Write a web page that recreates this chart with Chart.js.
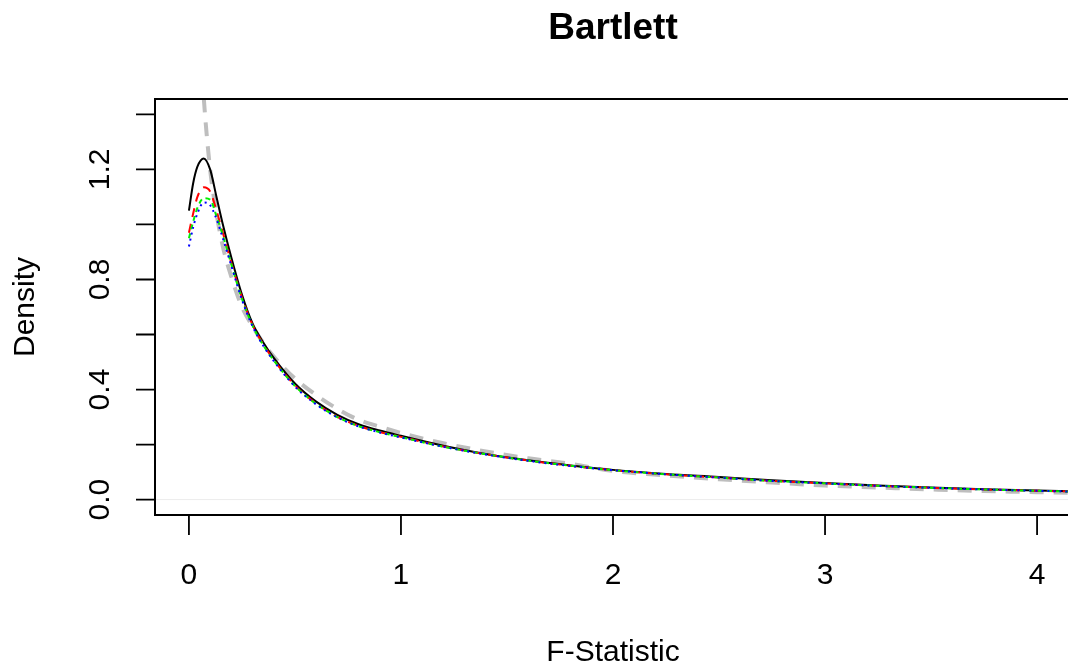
<!DOCTYPE html>
<html>
<head>
<meta charset="utf-8">
<script src="https://cdn.jsdelivr.net/npm/chart.js@4/dist/chart.umd.min.js"></script>
<style>
  html, body { margin: 0; padding: 0; background: #fff; overflow: hidden; }
  canvas { display: block; }
</style>
</head>
<body>
<canvas id="density-chart" width="1080" height="667"></canvas>
<script>
// F-statistic grid and densities
const fGrid = [0, 0.02, 0.04, 0.07, 0.1, 0.13, 0.16, 0.2, 0.25, 0.3, 0.35, 0.4, 0.5, 0.6, 0.7, 0.8, 0.9, 1.0,
               1.2, 1.4, 1.6, 1.8, 2.0, 2.25, 2.5, 2.75, 3.0, 3.25, 3.5, 3.75, 4.0, 4.25];
const blackDens = [1.05, 1.15, 1.21, 1.24, 1.20, 1.10, 1.00, 0.88, 0.745, 0.64, 0.572, 0.515, 0.422, 0.356, 0.308, 0.274, 0.251, 0.232,
                   0.196, 0.166, 0.143, 0.124, 0.108, 0.093, 0.082, 0.070, 0.060, 0.051, 0.044, 0.038, 0.033, 0.029];
const redDens   = [0.97, 1.04, 1.10, 1.135, 1.12, 1.05, 0.97, 0.86, 0.735, 0.635, 0.565, 0.508, 0.415, 0.349, 0.301, 0.268, 0.246, 0.228,
                   0.193, 0.165, 0.142, 0.123, 0.107, 0.092, 0.080, 0.068, 0.059, 0.050, 0.043, 0.037, 0.032, 0.028];
const greenDens = [0.95, 1.01, 1.06, 1.095, 1.09, 1.03, 0.96, 0.855, 0.73, 0.632, 0.562, 0.506, 0.413, 0.348, 0.300, 0.267, 0.245, 0.227,
                   0.192, 0.165, 0.142, 0.123, 0.107, 0.092, 0.080, 0.068, 0.059, 0.050, 0.043, 0.037, 0.032, 0.028];
const blueDens  = [0.92, 0.99, 1.04, 1.08, 1.07, 1.02, 0.95, 0.85, 0.727, 0.63, 0.56, 0.504, 0.411, 0.346, 0.299, 0.266, 0.244, 0.226,
                   0.192, 0.164, 0.141, 0.122, 0.107, 0.092, 0.080, 0.068, 0.059, 0.050, 0.043, 0.037, 0.032, 0.028];

// reference density (grey dashed)
const refGrid = [0.05, 0.07, 0.1, 0.13, 0.16, 0.2, 0.25, 0.3, 0.35, 0.4, 0.5, 0.6, 0.7, 0.8, 0.9, 1.0,
                 1.2, 1.4, 1.6, 1.8, 2.0, 2.25, 2.5, 2.75, 3.0, 3.25, 3.5, 3.75, 4.0, 4.25];
const refDens = [1.72, 1.46, 1.20, 1.04, 0.92, 0.81, 0.70, 0.63, 0.57, 0.52, 0.44, 0.38, 0.33, 0.29, 0.265, 0.242,
                 0.205, 0.175, 0.15, 0.13, 0.104, 0.088, 0.074, 0.062, 0.051, 0.044, 0.037, 0.031, 0.027, 0.023];

const xTicks = [0, 1, 2, 3, 4];
const yTicks = [0, 0.2, 0.4, 0.6, 0.8, 1.0, 1.2, 1.4];
const yLabelTicks = [0, 0.4, 0.8, 1.2];
const yLabels = ['0.0', '0.4', '0.8', '1.2'];

const FONT = '"Liberation Sans", Arial, Helvetica, sans-serif';

function pts(xs, ys) {
    return xs.map((x, i) => ({ x: x, y: ys[i] }));
}

function line(data, color, width, dash, order) {
    return {
        data: data,
        borderColor: color,
        borderWidth: width,
        borderDash: dash,
        pointRadius: 0,
        fill: false,
        cubicInterpolationMode: 'monotone',
        clip: 0,
        order: order
    };
}

// R style frame, axes and text
const rAxes = {
    id: 'rAxes',
    beforeDatasetsDraw(chart) {
        const { ctx, chartArea, scales } = chart;
        const y0 = scales.y.getPixelForValue(0);
        ctx.save();
        ctx.strokeStyle = '#ececec';
        ctx.lineWidth = 1;
        ctx.beginPath();
        ctx.moveTo(chartArea.left, y0);
        ctx.lineTo(chartArea.right, y0);
        ctx.stroke();
        ctx.restore();
    },
    afterDraw(chart) {
        const { ctx, chartArea, scales } = chart;
        const xs = scales.x, ys = scales.y;
        ctx.save();
        ctx.strokeStyle = '#000';
        ctx.fillStyle = '#000';
        ctx.lineWidth = 2;
        ctx.strokeRect(chartArea.left, chartArea.top, chartArea.right - chartArea.left, chartArea.bottom - chartArea.top);

        // x axis
        ctx.lineWidth = 1.8;
        ctx.beginPath();
        ctx.moveTo(xs.getPixelForValue(xTicks[0]), chartArea.bottom);
        ctx.lineTo(xs.getPixelForValue(xTicks[xTicks.length - 1]), chartArea.bottom);
        xTicks.forEach(t => {
            const px = xs.getPixelForValue(t);
            ctx.moveTo(px, chartArea.bottom);
            ctx.lineTo(px, chartArea.bottom + 20);
        });
        ctx.stroke();
        ctx.font = '30px ' + FONT;
        ctx.textAlign = 'center';
        ctx.textBaseline = 'alphabetic';
        xTicks.forEach(t => ctx.fillText(String(t), xs.getPixelForValue(t), 584));

        // y axis
        ctx.beginPath();
        ctx.moveTo(chartArea.left, ys.getPixelForValue(yTicks[0]));
        ctx.lineTo(chartArea.left, ys.getPixelForValue(yTicks[yTicks.length - 1]));
        yTicks.forEach(t => {
            const py = ys.getPixelForValue(t);
            ctx.moveTo(chartArea.left, py);
            ctx.lineTo(chartArea.left - 19, py);
        });
        ctx.stroke();
        yLabelTicks.forEach((t, i) => {
            ctx.save();
            ctx.translate(109, ys.getPixelForValue(t));
            ctx.rotate(-Math.PI / 2);
            ctx.fillText(yLabels[i], 0, 0);
            ctx.restore();
        });

        // titles
        const cx = (chartArea.left + chartArea.right) / 2;
        ctx.fillText('F-Statistic', cx, 661);
        ctx.save();
        ctx.translate(34, (chartArea.top + chartArea.bottom) / 2);
        ctx.rotate(-Math.PI / 2);
        ctx.fillText('Density', 0, 0);
        ctx.restore();
        ctx.font = 'bold 37px ' + FONT;
        ctx.fillText('Bartlett', cx, 39);
        ctx.restore();
    }
};

new Chart(document.getElementById('density-chart'), {
    type: 'line',
    data: {
        datasets: [
            line(pts(refGrid, refDens), '#bebebe', 4, [14, 10], 5),
            line(pts(fGrid, blackDens), '#000000', 2, [], 4),
            line(pts(fGrid, redDens), '#ff0000', 2, [9, 7], 3),
            line(pts(fGrid, greenDens), '#00ee00', 2, [5, 4], 2),
            line(pts(fGrid, blueDens), '#0000ff', 2, [2, 4], 1)
        ]
    },
    options: {
        responsive: false,
        animation: false,
        devicePixelRatio: 1,
        layout: { padding: { left: 155, top: 99, right: 9, bottom: 152 } },
        plugins: { legend: { display: false }, tooltip: { enabled: false } },
        scales: {
            x: { type: 'linear', min: -0.16, max: 4.16, display: false },
            y: { type: 'linear', min: -0.056, max: 1.456, display: false }
        }
    },
    plugins: [rAxes]
});
</script>
</body>
</html>
